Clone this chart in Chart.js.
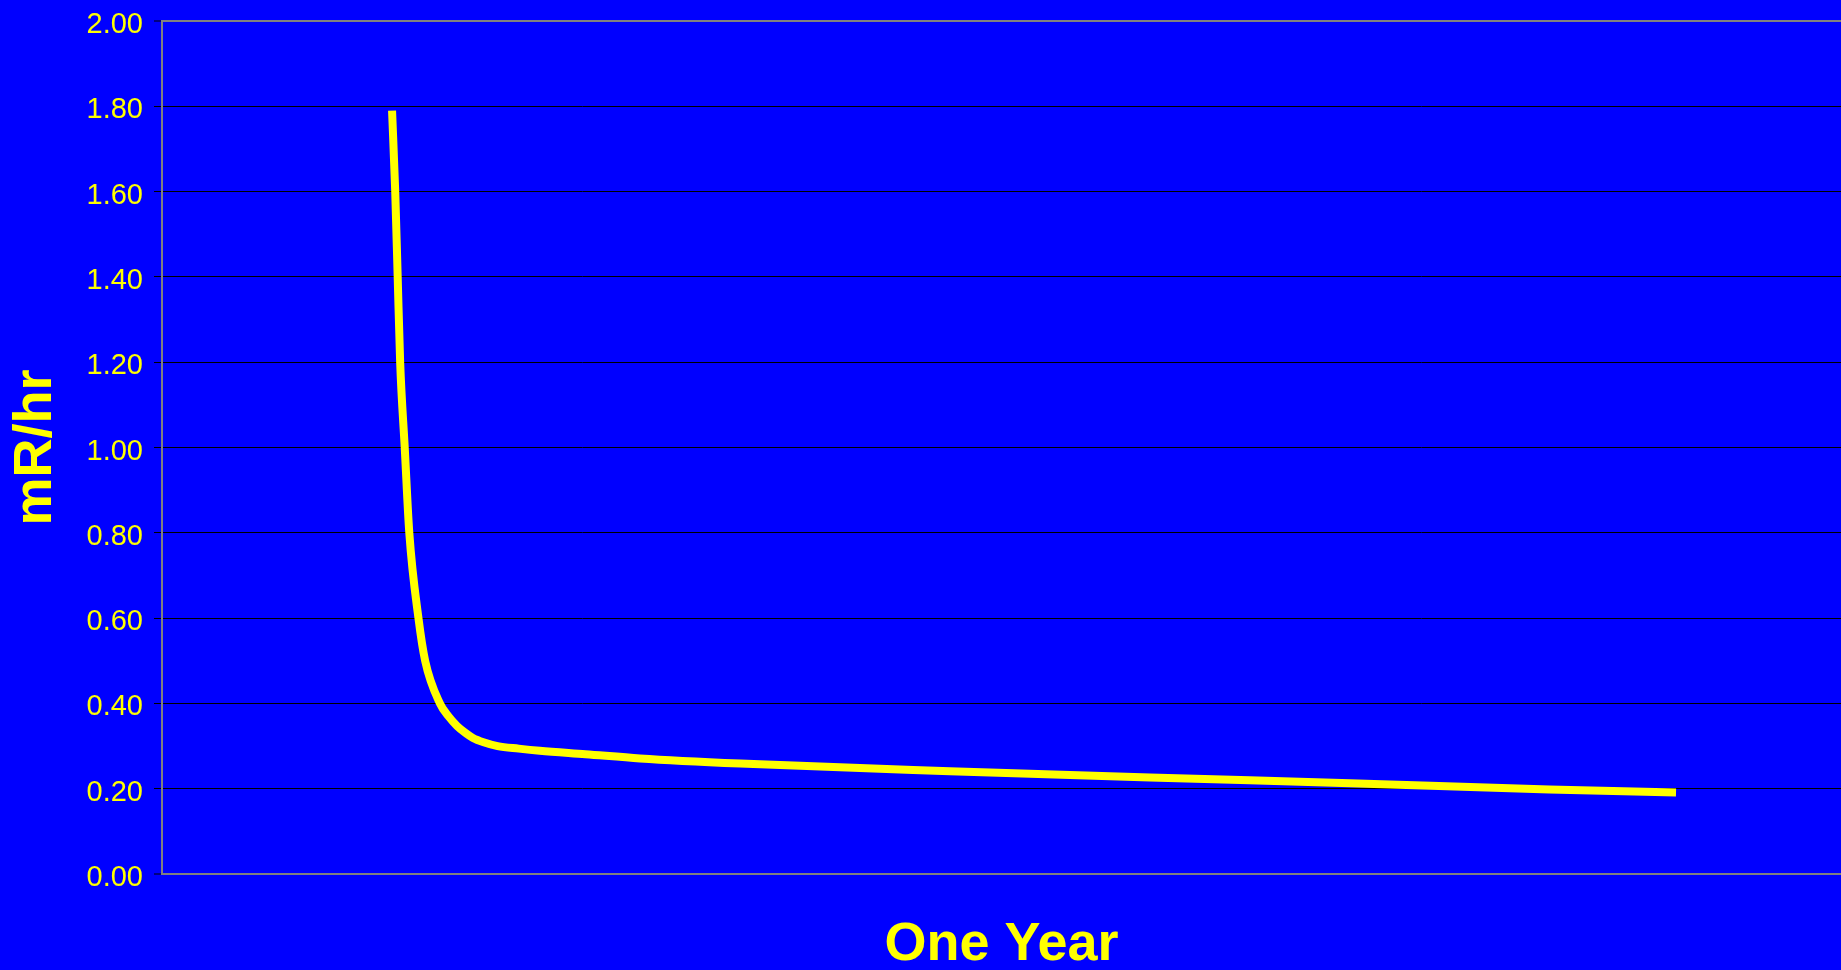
<!DOCTYPE html>
<html>
<head>
<meta charset="utf-8">
<title>mR/hr over one year</title>
<script src="https://cdn.jsdelivr.net/npm/chart.js@4/dist/chart.umd.min.js"></script>
<style>
  html, body { margin: 0; padding: 0; background: #0000ff; overflow: hidden; }
  canvas { display: block; }
</style>
</head>
<body>
<canvas id="decay" width="1841" height="970"></canvas>
<script>
// Dose rate readings (mR/hr) against elapsed time in days over one year
const days = [0, 0.9, 1.6, 2.3, 3.6, 4.9, 7.5, 9.4, 13.6, 16, 18.5, 21, 23, 26, 30, 36, 42, 55, 70.5, 99, 158.6, 215.5, 272.3, 329, 365];
const mRhr = [1.79, 1.60, 1.40, 1.20, 1.00, 0.80, 0.60, 0.50, 0.40, 0.370, 0.347, 0.330, 0.319, 0.309, 0.300, 0.294, 0.289, 0.281, 0.271, 0.259, 0.241, 0.226, 0.213, 0.198, 0.191];

// Value axis range and tick step
const yMin = 0;
const yMax = 2;
const yStep = 0.2;

// Time axis range (days): the year sits inside a wider plot window
const xMin = -65.4;
const xMax = 411.9;

const yTitle = 'mR/hr';
const xTitle = 'One Year';

const YELLOW = '#ffff00';
const FRAME = '#808080';
const FONT = "'Liberation Sans', Arial, sans-serif";

const points = days.map((d, i) => ({ x: d, y: mRhr[i] }));

const isEdge = v => Math.abs(v - yMin) < 1e-6 || Math.abs(v - yMax) < 1e-6;

new Chart(document.getElementById('decay'), {
  type: 'line',
  data: {
    datasets: [{
      label: yTitle,
      data: points,
      borderColor: YELLOW,
      borderWidth: 8,
      pointRadius: 0,
      pointHoverRadius: 0,
      fill: false,
      cubicInterpolationMode: 'monotone',
      borderCapStyle: 'butt',
      borderJoinStyle: 'round'
    }]
  },
  options: {
    responsive: false,
    animation: false,
    devicePixelRatio: 1,
    layout: { padding: { top: 21, left: 0, right: 0, bottom: 0 } },
    plugins: {
      legend: { display: false },
      tooltip: { enabled: false }
    },
    scales: {
      x: {
        type: 'linear',
        min: xMin,
        max: xMax,
        grid: { display: false },
        border: { display: true, color: FRAME, width: 2 },
        ticks: { display: false },
        title: {
          display: true,
          text: xTitle,
          color: YELLOW,
          font: { family: FONT, size: 54, weight: 'bold', lineHeight: 0.9 },
          padding: { top: 0, bottom: 1 }
        },
        afterFit: s => { s.height = 96; s.paddingLeft = 0; s.paddingRight = 0; }
      },
      y: {
        type: 'linear',
        min: yMin,
        max: yMax,
        grid: {
          color: c => isEdge(c.tick.value) ? FRAME : '#000000',
          lineWidth: c => isEdge(c.tick.value) ? 2 : 1,
          tickColor: '#000000',
          tickLength: 8,
          tickWidth: 1,
          drawTicks: true
        },
        border: { display: true, color: FRAME, width: 2 },
        ticks: {
          stepSize: yStep,
          color: YELLOW,
          padding: 11,
          labelOffset: 4,
          font: { family: FONT, size: 29 },
          callback: v => Number(v).toFixed(2)
        },
        title: {
          display: true,
          text: yTitle,
          color: YELLOW,
          font: { family: FONT, size: 54, weight: 'bold', lineHeight: 1.2 },
          padding: { top: 4, bottom: 0 }
        },
        afterFit: s => { s.width = 162; s.paddingTop = 0; s.paddingBottom = 0; }
      }
    }
  }
});
</script>
</body>
</html>
